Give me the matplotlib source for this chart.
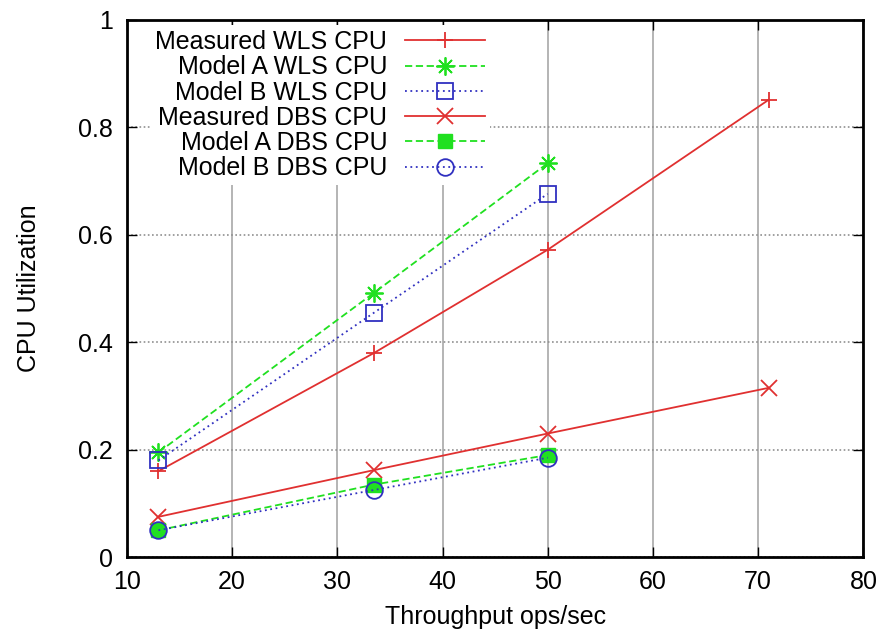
import matplotlib
matplotlib.use('Agg')
from matplotlib import pyplot as plt

plt.rcParams['font.family'] = ['Liberation Sans', 'DejaVu Sans']

# Data
x_full = [13, 33.5, 50, 71]
x_model = [13, 33.5, 50]
measured_wls = [0.16, 0.38, 0.572, 0.851]
model_a_wls = [0.195, 0.492, 0.733]
model_b_wls = [0.18, 0.455, 0.676]
measured_dbs = [0.075, 0.162, 0.23, 0.315]
model_a_dbs = [0.05, 0.135, 0.19]
model_b_dbs = [0.05, 0.125, 0.185]

red = '#e03030'
green = '#20e020'
blue = '#3030c0'

fig = plt.figure(figsize=(8.81, 6.36), dpi=100)
ax = fig.add_axes([0.144, 0.124, 0.836, 0.845])

ax.plot(x_full, measured_wls, color=red, lw=1.3, marker='+', ms=12, mew=1.3,
        label='Measured WLS CPU')
ax.plot(x_model, model_a_wls, color=green, lw=1.3, ls=(0, (4, 2)), marker=(8, 2, 0), ms=13,
        mew=1.3, label='Model A WLS CPU')
ax.plot(x_model, model_b_wls, color=blue, lw=1.3, ls=(0, (1, 2)), marker='s', ms=12,
        mfc='none', mew=1.3, label='Model B WLS CPU')
ax.plot(x_full, measured_dbs, color=red, lw=1.3, marker='x', ms=11, mew=1.3,
        label='Measured DBS CPU')
ax.plot(x_model, model_a_dbs, color=green, lw=1.3, ls=(0, (4, 2)), marker='s', ms=10,
        label='Model A DBS CPU')
ax.plot(x_model, model_b_dbs, color=blue, lw=1.3, ls=(0, (1, 2)), marker='o', ms=12,
        mfc='none', mew=1.3, label='Model B DBS CPU')

ax.set_xlim(10, 80)
ax.set_ylim(0, 1)
ax.set_xticks(range(10, 81, 10))
ax.set_yticks([0, 0.2, 0.4, 0.6, 0.8, 1])
ax.set_yticklabels(['0', '0.2', '0.4', '0.6', '0.8', '1'])
ax.tick_params(direction='in', top=True, right=True, length=7, width=1, labelsize=18)
ax.tick_params(axis='x', pad=9)
ax.tick_params(axis='y', pad=10)
ax.xaxis.grid(True, color='#a8a8a8', lw=1.2, ls='-')
ax.yaxis.grid(True, color='#909090', lw=1.2, ls=(0, (1, 1.5)))
for s in ax.spines.values():
    s.set_linewidth(2)

ax.set_xlabel('Throughput ops/sec', fontsize=18, labelpad=8)
ax.set_ylabel('CPU Utilization', fontsize=18, labelpad=27)

leg = ax.legend(loc='upper left', bbox_to_anchor=(0.032, 0.99), markerfirst=False,
                fontsize=18, handlelength=3.2, labelspacing=0.05, borderpad=0.2,
                handletextpad=0.7, frameon=True, fancybox=False, framealpha=1,
                edgecolor='none', borderaxespad=0)

fig.savefig('out.png', dpi=100)
